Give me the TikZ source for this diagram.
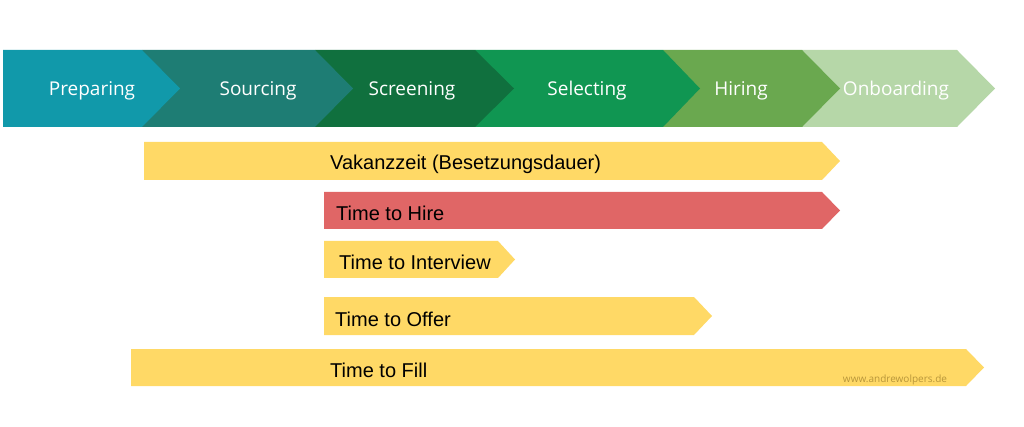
\documentclass[tikz,border=0pt]{standalone}
\usepackage{fontspec}
\setmainfont{Liberation Sans}
\newfontfamily\stagefont{Open Sans}
\usetikzlibrary{positioning}
\definecolor{prepC}{HTML}{1199AA}
\definecolor{sourC}{HTML}{1E7D74}
\definecolor{screC}{HTML}{10703E}
\definecolor{seleC}{HTML}{109652}
\definecolor{hireC}{HTML}{6AA84F}
\definecolor{onbC}{HTML}{B6D7A8}
\definecolor{yelC}{HTML}{FFD966}
\definecolor{redC}{HTML}{E06666}
\definecolor{wmC}{HTML}{B8963A}

\begin{document}
\begin{tikzpicture}
[x=1pt,y=-1pt,
 stage/.style={font=\stagefont\fontsize{19}{23}\selectfont,text=white,inner sep=0pt},
 span/.style={font=\fontsize{20}{24}\selectfont,text=black,anchor=west,inner sep=0pt},
 wm/.style={font=\stagefont\fontsize{10}{12}\selectfont,text=wmC,inner sep=0pt}]
\useasboundingbox (0,0) rectangle (1024,427);
% phases, right to left so each tip lies over the next notch
\fill[onbC] (802,50) -- (957,50) -- (995,88.5) -- (957,127) -- (802,127) -- cycle;
\fill[hireC] (663,50) -- (802,50) -- (840,88.5) -- (802,127) -- (663,127) -- cycle;
\fill[seleC] (475,50) -- (663,50) -- (700,88.5) -- (663,127) -- (475,127) -- cycle;
\fill[screC] (315,50) -- (475,50) -- (514,88.5) -- (475,127) -- (315,127) -- cycle;
\fill[sourC] (142,50) -- (315,50) -- (353,88.5) -- (315,127) -- (142,127) -- cycle;
\fill[prepC] (3,50) -- (142,50) -- (180,88.5) -- (142,127) -- (3,127) -- cycle;
\node[stage] (prep) at (92,91) {Preparing};
\node[stage] (sour) at (258,91) {Sourcing};
\node[stage] (scre) at (412,91) {Screening};
\node[stage] (sele) at (587,91) {Selecting};
\node[stage] (hire) at (741,91) {Hiring};
\node[stage] (onb) at (896,91) {Onboarding};
% time spans
\fill[yelC] (144,142) -- (822,142) -- (840,161) -- (822,180) -- (144,180) -- cycle;
\fill[redC] (324,192) -- (822,192) -- (840,210.5) -- (822,229) -- (324,229) -- cycle;
\fill[yelC] (324,241) -- (498,241) -- (515,259.5) -- (498,278) -- (324,278) -- cycle;
\fill[yelC] (324,297) -- (694,297) -- (712,316) -- (694,335) -- (324,335) -- cycle;
\fill[yelC] (131,349) -- (966,349) -- (984,367.5) -- (966,386) -- (131,386) -- cycle;
\node[span] (vak) at (330,164) {Vakanzzeit (Besetzungsdauer)};
\node[span] (tth) at (336,213) {Time to Hire};
\node[span] (tti) at (339,262) {Time to Interview};
\node[span] (tto) at (335,319) {Time to Offer};
\node[span] (ttf) at (330,370) {Time to Fill};
\node[wm] (web) at (895,380) {www.andrewolpers.de};
\end{tikzpicture}
\end{document}
